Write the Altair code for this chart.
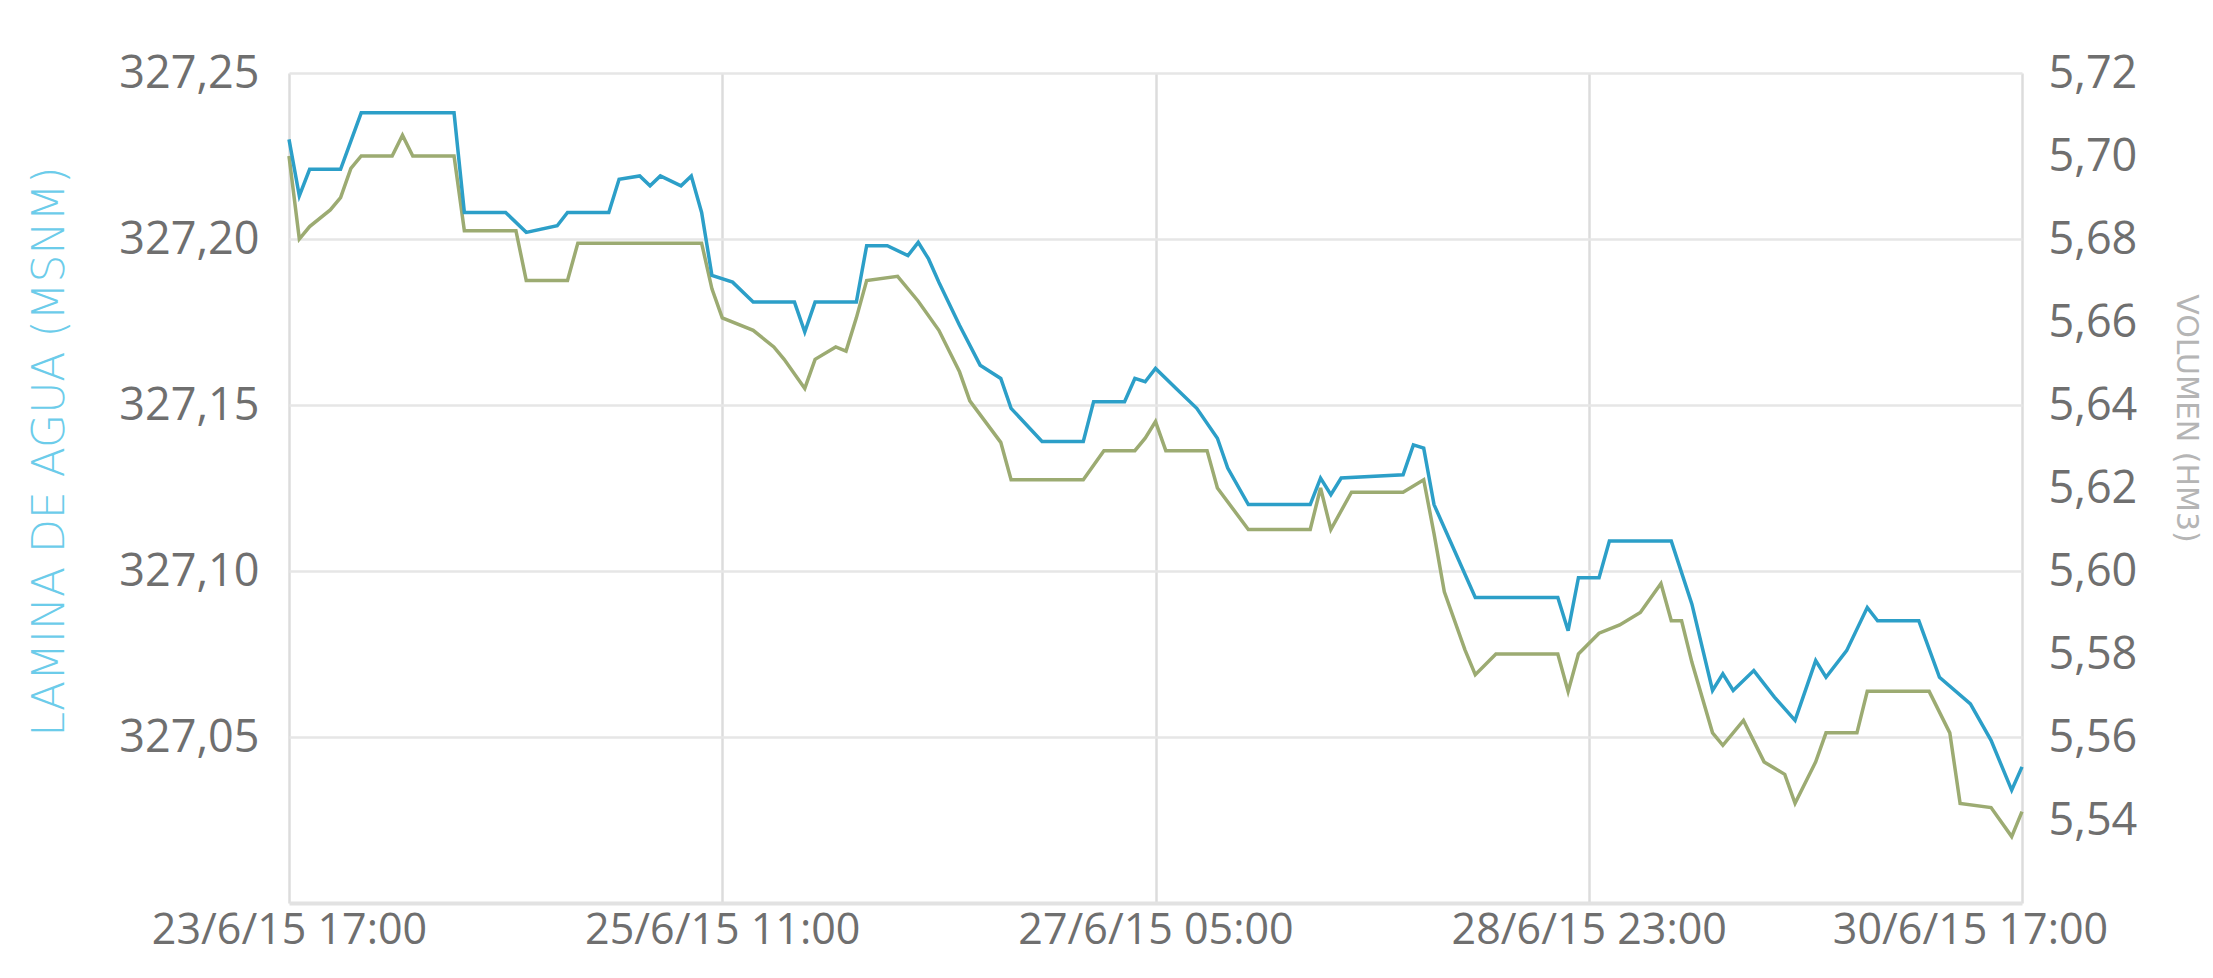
import altair as alt
import pandas as pd

# ---- data ----
start_time = "2015-06-23 17:00"

lamina_hours = [0, 1, 2, 5, 7, 16, 17, 21, 23, 26, 27, 31, 32, 34, 35, 36, 38, 39, 40, 41,
                43, 45, 49, 50, 51, 55, 56, 58, 60, 61, 62, 63, 65, 67, 69, 70, 73, 77, 78, 81,
                82, 83, 84, 86, 88, 90, 91, 93, 99, 100, 101, 102, 108, 109, 110, 111, 113, 115, 123, 124,
                125, 127, 128, 134, 136, 138, 139, 140, 142, 144, 146, 148, 149, 151, 153, 154, 158, 160, 163, 165,
                167, 168]
lamina_values = [327.230, 327.213, 327.221, 327.221, 327.238, 327.238, 327.208, 327.208, 327.202, 327.204,
                 327.208, 327.208, 327.218, 327.219, 327.216, 327.219, 327.216, 327.219, 327.208, 327.189,
                 327.187, 327.181, 327.181, 327.172, 327.181, 327.181, 327.198, 327.198, 327.195, 327.199,
                 327.194, 327.187, 327.174, 327.162, 327.158, 327.149, 327.139, 327.139, 327.151, 327.151,
                 327.158, 327.157, 327.161, 327.155, 327.149, 327.140, 327.131, 327.120, 327.120, 327.128,
                 327.123, 327.128, 327.129, 327.138, 327.137, 327.120, 327.106, 327.092, 327.092, 327.082,
                 327.098, 327.098, 327.109, 327.109, 327.090, 327.064, 327.069, 327.064, 327.070, 327.062,
                 327.055, 327.073, 327.068, 327.076, 327.089, 327.085, 327.085, 327.068, 327.060, 327.049,
                 327.034, 327.041]

volumen_hours = [0, 1, 2, 4, 5, 6, 7, 10, 11, 12, 16, 17, 22, 23, 27, 28, 40, 41, 42, 45,
                 47, 48, 50, 51, 53, 54, 55, 56, 59, 61, 63, 65, 66, 69, 70, 77, 79, 82, 83, 84,
                 85, 89, 90, 93, 99, 100, 101, 103, 108, 110, 111, 112, 114, 115, 117, 123, 124, 125, 127, 129,
                 131, 133, 134, 135, 136, 138, 139, 141, 143, 145, 146, 148, 149, 152, 153, 159, 161, 162, 165, 167,
                 168]
volumen_values = [5.700, 5.680, 5.683, 5.687, 5.690, 5.697, 5.700, 5.700, 5.705, 5.700,
                  5.700, 5.682, 5.682, 5.670, 5.670, 5.679, 5.679, 5.668, 5.661, 5.658,
                  5.654, 5.651, 5.644, 5.651, 5.654, 5.653, 5.661, 5.670, 5.671, 5.665,
                  5.658, 5.648, 5.641, 5.631, 5.622, 5.622, 5.629, 5.629, 5.632, 5.636,
                  5.629, 5.629, 5.620, 5.610, 5.610, 5.620, 5.610, 5.619, 5.619, 5.622,
                  5.609, 5.595, 5.581, 5.575, 5.580, 5.580, 5.571, 5.580, 5.585, 5.587,
                  5.590, 5.597, 5.588, 5.588, 5.578, 5.561, 5.558, 5.564, 5.554, 5.551,
                  5.544, 5.554, 5.561, 5.561, 5.571, 5.571, 5.561, 5.544, 5.543, 5.536,
                  5.542]

left_ticks = [327.05, 327.10, 327.15, 327.20, 327.25]
right_ticks = [5.54, 5.56, 5.58, 5.60, 5.62, 5.64, 5.66, 5.68, 5.70, 5.72]
x_tick_labels = ["23/6/15 17:00", "25/6/15 11:00", "27/6/15 05:00", "28/6/15 23:00", "30/6/15 17:00"]

# ---- build tables ----
t0 = pd.Timestamp(start_time)


def to_iso(hours):
    return [(t0 + pd.Timedelta(hours=h)).strftime("%Y-%m-%dT%H:%M:%S") for h in hours]


df_l = pd.DataFrame({"t": to_iso(lamina_hours), "v": lamina_values})
df_v = pd.DataFrame({"t": to_iso(volumen_hours), "v": volumen_values})

tick_times = [pd.to_datetime(s, format="%d/%m/%y %H:%M") for s in x_tick_labels]
tick_dt = [alt.DateTime(year=t.year, month=t.month, date=t.day, hours=t.hour) for t in tick_times]

FONT = "Open Sans"
LABEL_COLOR = "#6f6f6f"
comma_expr = "replace(format(datum.value, '.2f'), '.', ',')"

x_enc = alt.X(
    "t:T",
    scale=alt.Scale(domain=[tick_dt[0], tick_dt[-1]]),
    axis=alt.Axis(
        values=tick_dt,
        format="%-d/%-m/%y %H:%M",
        title=None,
        grid=True,
        gridColor="#dcdcdc",
        gridWidth=2.5,
        ticks=False,
        domain=True,
        domainColor="#e2e2e2",
        domainWidth=4,
        labelFont=FONT,
        labelFontSize=43,
        labelColor=LABEL_COLOR,
        labelPadding=6,
        labelLimit=0,
        labelFlush=False,
        labelOverlap=False,
        labelOffset={"condition": {"test": "datum.index >= 1", "value": -52}, "value": 0},
    ),
)

vol = alt.Chart(df_v).mark_line(color="#9cab72", strokeWidth=3.5).encode(
    x=x_enc,
    y=alt.Y(
        "v:Q",
        scale=alt.Scale(domain=[5.52, 5.72], nice=False, zero=False),
        axis=alt.Axis(
            orient="right",
            values=right_ticks,
            labelExpr=comma_expr,
            grid=False,
            ticks=False,
            domain=False,
            labelFont=FONT,
            labelFontSize=45,
            labelColor=LABEL_COLOR,
            labelPadding=26,
            title="VOLUMEN (HM3)",
            titleFont="DejaVu Sans",
            titleFontSize=30,
            titleFontWeight="normal",
            titleColor="#b5b5b5",
            titleX=163,
            titleY=345,
            titleAlign="center",
            titleBaseline="middle",
        ),
    ),
)

lam = alt.Chart(df_l).mark_line(color="#2c9fc8", strokeWidth=3.5).encode(
    x=x_enc,
    y=alt.Y(
        "v:Q",
        scale=alt.Scale(domain=[327.0, 327.25], nice=False, zero=False),
        axis=alt.Axis(
            orient="left",
            values=left_ticks,
            labelExpr=comma_expr,
            grid=True,
            gridColor="#e6e6e6",
            gridWidth=2.5,
            ticks=False,
            domain=False,
            labelFont=FONT,
            labelFontSize=45,
            labelColor=LABEL_COLOR,
            labelPadding=30,
            title="LAMINA DE AGUA (MSNM)",
            titleFont="DejaVu Sans",
            titleFontSize=44,
            titleFontWeight=200,
            titleColor="#6cccea",
            titleX=-239,
            titleY=378,
            titleAlign="center",
            titleBaseline="middle",
        ),
    ),
)

chart = (
    alt.layer(vol, lam)
    .resolve_scale(y="independent")
    .properties(
        width=1733,
        height=830,
        autosize=alt.AutoSizeParams(type="none"),
        padding={"left": 281, "top": 65, "right": 183, "bottom": 60},
        background="white",
    )
    .configure_view(stroke=None)
)

chart.save("out.html", embed_options={"renderer": "svg", "actions": False})
